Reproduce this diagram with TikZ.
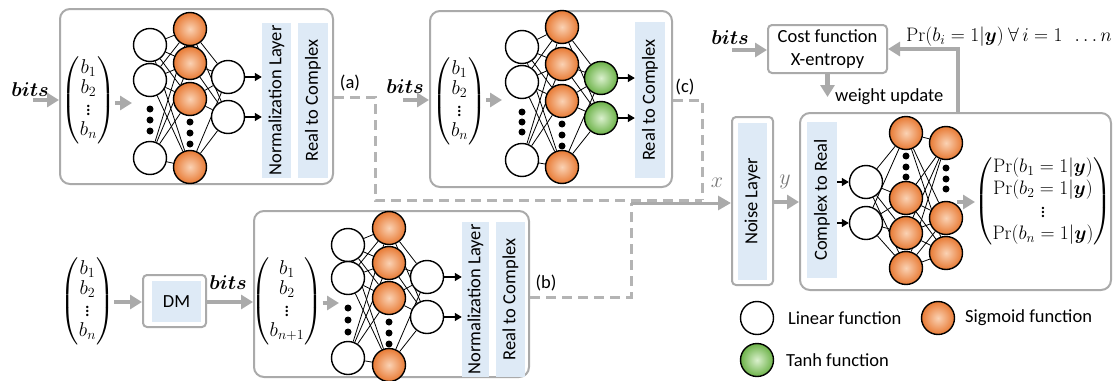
\RequirePackage{fix-cm}
\documentclass[tikz,border=0pt]{standalone}
\usepackage{amsmath}
\usepackage{bm}
\usepackage[no-math]{fontspec}
\setmainfont{Carlito}
\usetikzlibrary{arrows.meta,backgrounds}
\definecolor{lgray}{RGB}{170,170,170}
\definecolor{dgray}{RGB}{180,180,180}
\definecolor{lblue}{RGB}{222,234,246}
\definecolor{orgD}{RGB}{232,122,52}
\definecolor{orgL}{RGB}{250,210,180}
\definecolor{grnD}{RGB}{108,178,72}
\definecolor{grnL}{RGB}{218,240,205}
\definecolor{lblgray}{RGB}{120,120,120}
\tikzset{
  lin/.style={circle, draw=black, line width=1.4pt, fill=white, minimum size=33pt, inner sep=0pt},
  sig/.style={circle, draw=black, line width=1.4pt, minimum size=33pt, inner sep=0pt, inner color=orgL, outer color=orgD},
  tnh/.style={circle, draw=black, line width=1.4pt, minimum size=33pt, inner sep=0pt, inner color=grnL, outer color=grnD},
  dotn/.style={circle, fill=black, minimum size=7pt, inner sep=0pt},
  conn/.style={line width=0.8pt, black},
  outarr/.style={-{Triangle[length=7pt,width=8pt]}, line width=1.4pt},
  garr/.style={-{Triangle[length=12pt,width=14pt]}, line width=4.5pt, draw=lgray},
  garrthin/.style={-{Triangle[length=13pt,width=14pt]}, line width=3pt, draw=lgray},
  panel/.style={draw=lgray, line width=2pt, rounded corners=10pt},
  smallpanel/.style={draw=lgray, line width=2pt, rounded corners=4pt, fill=white},
  layerbox/.style={fill=lblue, inner sep=0pt, rotate=90, font=\fontsize{18.5}{22}\selectfont},
  dashl/.style={draw=dgray, line width=3pt, dash pattern=on 10pt off 6pt},
  txt/.style={font=\fontsize{18.5}{22}\selectfont, inner sep=0pt},
  vec/.style={font=\fontsize{20}{20}\selectfont, inner sep=0pt},
  mlab/.style={font=\fontsize{20}{22}\selectfont, inner sep=0pt},
  xylab/.style={font=\fontsize{22}{22}\selectfont, inner sep=0pt, text=lblgray},
  prvec/.style={font=\fontsize{19.5}{22}\selectfont, inner sep=0pt},
}
\begin{document}
\begin{tikzpicture}[x=1pt,y=-1pt]
\useasboundingbox (0,0) rectangle (1113,380);

% ================= Panel A =================
\node[panel, minimum width=273pt, minimum height=175pt] (A) at (196.5,96.5) {};
\node[mlab] (bitsA) at (30,90) {$\bm{bits}$};
\node[vec] (vA) at (88.5,100.5) {$\begin{pmatrix} b_1\\ b_2\\ \vdots\\ b_n\end{pmatrix}$};
\foreach \n/\y in {1/45,2/80,3/158} \node[lin] (Ai\n) at (150,\y) {};
\foreach \n/\y in {1/29,2/63,3/99,4/167} \node[sig] (Ah\n) at (190,\y) {};
\foreach \n/\y in {1/77,2/117} \node[lin] (Ao\n) at (228,\y) {};
\foreach \n/\y in {1/109,2/120,3/131} \node[dotn] (Aid\n) at (150,\y) {};
\foreach \n/\y in {1/122,2/133,3/144} \node[dotn] (Ahd\n) at (190,\y) {};
\node[layerbox, minimum width=155pt, minimum height=29pt] (NormA) at (276.5,100.5) {Normalization Layer};
\node[layerbox, minimum width=155pt, minimum height=30pt] (RtcA) at (313,100.5) {Real to Complex};
\node[txt] (labA) at (350,83) {(a)};
\coordinate (vAin) at (132,103);
\draw[garr] (33,100) -- (A.west |- 0,100);
\draw[garr] (vA.east |- 0,103) -- (vAin);
\foreach \j in {1,2} \draw[outarr] (Ao\j.east) -- (Ao\j.east -| NormA.north);
\begin{scope}[on background layer]
\foreach \i in {1,2,3}{\foreach \j in {1,...,4}{\draw[conn] (Ai\i) -- (Ah\j);}}
\foreach \i in {1,...,4}{\foreach \j in {1,2}{\draw[conn] (Ah\i) -- (Ao\j);}}
\end{scope}

% ================= Panel C =================
\node[panel, minimum width=242pt, minimum height=176pt] (C) at (551,99) {};
\node[mlab] (bitsC) at (405,87) {$\bm{bits}$};
\node[vec] (vC) at (459.5,101.5) {$\begin{pmatrix} b_1\\ b_2\\ \vdots\\ b_n\end{pmatrix}$};
\foreach \n/\y in {1/47,2/82,3/160} \node[lin] (Ci\n) at (522,\y) {};
\foreach \n/\y in {1/27,2/64,3/101,4/167} \node[sig] (Ch\n) at (562,\y) {};
\foreach \n/\y in {1/78,2/118} \node[tnh] (Co\n) at (601,\y) {};
\foreach \n/\y in {1/112,2/122,3/132} \node[dotn] (Cid\n) at (522,\y) {};
\foreach \n/\y in {1/124,2/135,3/146} \node[dotn] (Chd\n) at (562,\y) {};
\node[layerbox, minimum width=156pt, minimum height=30pt] (RtcC) at (650,100) {Real to Complex};
\node[txt] (labC) at (685,87) {(c)};
\coordinate (vCin) at (502,100);
\draw[garr] (403,100) -- (C.west |- 0,100);
\draw[garr] (vC.east |- 0,100) -- (vCin);
\foreach \j in {1,2} \draw[outarr] (Co\j.east) -- (Co\j.east -| RtcC.north);
\begin{scope}[on background layer]
\foreach \i in {1,2,3}{\foreach \j in {1,...,4}{\draw[conn] (Ci\i) -- (Ch\j);}}
\foreach \i in {1,...,4}{\foreach \j in {1,2}{\draw[conn] (Ch\i) -- (Co\j);}}
\end{scope}

% ================= Bottom: DM and Panel B =================
\node[vec] (vL) at (87.5,301.5) {$\begin{pmatrix} b_1\\ b_2\\ \vdots\\ b_n\end{pmatrix}$};
\node[smallpanel, minimum width=63pt, minimum height=52pt] (DMo) at (174.5,301) {};
\node[fill=lblue, minimum width=49pt, minimum height=41pt, inner sep=0pt, font=\fontsize{18.5}{22}\selectfont] (DM) at (176.5,301.5) {DM};
\node[mlab] (bitsB) at (228,283) {$\bm{bits}$};
\node[panel, minimum width=275pt, minimum height=166pt] (B) at (391.5,294) {};
\node[vec] (vB) at (287,301.5) {$\begin{pmatrix} b_1\\ b_2\\ \vdots\\ b_{n+1}\end{pmatrix}$};
\foreach \n/\y in {1/245,2/278,3/358} \node[lin] (Bi\n) at (348,\y) {};
\foreach \n/\y in {1/228,2/263,3/298,4/365} \node[sig] (Bh\n) at (389,\y) {};
\foreach \n/\y in {1/277,2/317} \node[lin] (Bo\n) at (427,\y) {};
\foreach \n/\y in {1/308,2/320,3/332} \node[dotn] (Bid\n) at (348,\y) {};
\foreach \n/\y in {1/322,2/333,3/344} \node[dotn] (Bhd\n) at (389,\y) {};
\node[layerbox, minimum width=155pt, minimum height=27pt] (NormB) at (475.5,299.5) {Normalization Layer};
\node[layerbox, minimum width=155pt, minimum height=29pt] (RtcB) at (510.5,299.5) {Real to Complex};
\node[txt] (labB) at (546,283) {(b)};
\coordinate (vBin) at (339,303);
\draw[garr] (vL.east |- 0,302) -- (DMo.west |- 0,302);
\draw[garr] (DMo.east |- 0,302) -- (B.west |- 0,302);
\draw[garr] (vB.east |- 0,303) -- (vBin);
\foreach \j in {1,2} \draw[outarr] (Bo\j.east) -- (Bo\j.east -| NormB.north);
\begin{scope}[on background layer]
\foreach \i in {1,2,3}{\foreach \j in {1,...,4}{\draw[conn] (Bi\i) -- (Bh\j);}}
\foreach \i in {1,...,4}{\foreach \j in {1,2}{\draw[conn] (Bh\i) -- (Bo\j);}}
\end{scope}

% ================= Noise layer =================
\node[smallpanel, minimum width=41pt, minimum height=168pt] (Noise) at (752.5,201) {};
\node[layerbox, minimum width=157pt, minimum height=29pt] (NoiseL) at (752.5,201.5) {Noise Layer};
\node[xylab] (xlab) at (717,183) {$x$};
\node[xylab] (ylab) at (785,182) {$y$};

% dashed connectors
\coordinate (jA) at (375,97);
\coordinate (jAd) at (375,200);
\coordinate (jC) at (702,100);
\coordinate (jm) at (702,200);
\coordinate (jB) at (631,297);
\coordinate (jBu) at (631,203);
\draw[dashl] (A.east |- jA) -- (jA) -- (jAd) -- (jm);
\draw[dashl] (C.east |- jC) -- (jC) -- (jm);
\draw[dashl] (B.east |- jB) -- (jB) -- (jBu);
\draw[garrthin] (jBu) -- (Noise.west |- jBu);

% ================= Panel D =================
\node[panel, minimum width=311pt, minimum height=177pt] (D) at (955.5,201.5) {};
\node[layerbox, minimum width=156pt, minimum height=30pt] (CtR) at (822,200) {Complex to Real};
\foreach \n/\y in {1/182,2/223} \node[lin] (Di\n) at (866,\y) {};
\foreach \n/\y in {1/133,2/198,3/233,4/268} \node[sig] (Dh\n) at (906,\y) {};
\foreach \n/\y in {1/143,2/218,3/253} \node[sig] (Dg\n) at (946,\y) {};
\foreach \n/\y in {1/156,2/167,3/177} \node[dotn] (Dhd\n) at (906,\y) {};
\foreach \n/\y in {1/168,2/179,3/189} \node[dotn] (Dgd\n) at (946,\y) {};
\node[prvec] (vD) at (1043,201.5) {$\begin{pmatrix}\Pr(b_1=1|\bm{y})\\ \Pr(b_2=1|\bm{y})\\ \vdots\\ \Pr(b_n=1|\bm{y})\end{pmatrix}$};
\draw[garr] (Noise.east |- 0,202) -- (D.west |- 0,202);
\foreach \j in {1,2} \draw[outarr] (CtR.south |- Di\j) -- (Di\j.west);
\coordinate (vDin) at (975,202);
\draw[garr] (957,202) -- (vDin);
\begin{scope}[on background layer]
\foreach \i in {1,2}{\foreach \j in {1,...,4}{\draw[conn] (Di\i) -- (Dh\j);}}
\foreach \i in {1,...,4}{\foreach \j in {1,2,3}{\draw[conn] (Dh\i) -- (Dg\j);}}
\end{scope}

% ================= Cost function =================
\node[smallpanel, minimum width=119pt, minimum height=48pt, align=center, font=\fontsize{18.5}{23}\selectfont, inner sep=0pt] (Cost) at (827.5,49) {Cost function\\X-entropy};
\node[mlab] (bitsR) at (730,38) {$\bm{bits}$};
\draw[garr] (732,50) -- (Cost.west |- 0,50);
\coordinate (wu) at (827.5,97);
\draw[garr] (Cost.south) -- (wu);
\node[txt, anchor=west] (wulab) at (835,97) {weight update};
\coordinate (fbc) at (958,49);
\draw[-{Triangle[length=12pt,width=14pt]}, line width=4pt, draw=lgray] (D.north -| fbc) -- (fbc) -- (Cost.east |- fbc);
\node[prvec, anchor=west] (prlab) at (906,37) {$\Pr(b_i = 1|\bm{y})\ \forall\, i = 1\ \ \ldots n$};

% ================= Legend =================
\node[lin] (Llin) at (757,318) {};
\node[txt, anchor=west] (Llint) at (788,318) {Linear function};
\node[sig] (Lsig) at (938,318) {};
\node[txt, anchor=west] (Lsigt) at (965,318) {Sigmoid function};
\node[tnh] (Ltnh) at (757,360) {};
\node[txt, anchor=west] (Ltnht) at (786,360) {Tanh function};
\end{tikzpicture}
\end{document}
